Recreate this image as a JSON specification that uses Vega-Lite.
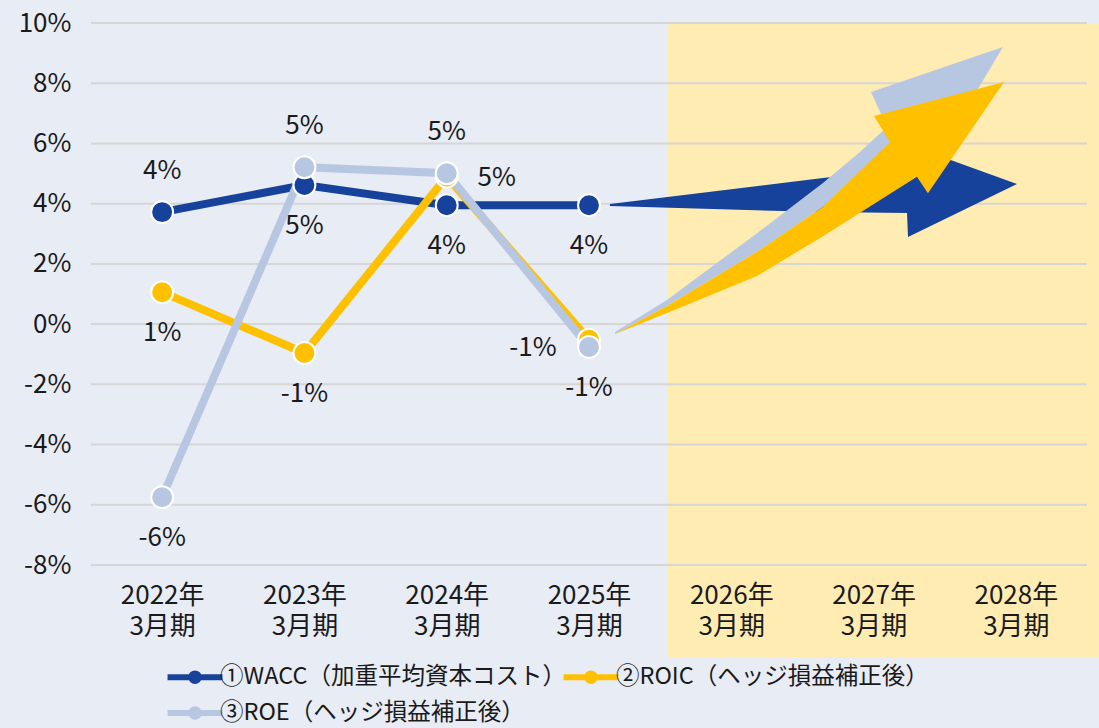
{
  "$schema": "https://vega.github.io/schema/vega-lite/v6.json",
  "width": 996,
  "height": 542,
  "autosize": {"type": "none"},
  "padding": {"left": 91, "top": 23, "right": 12, "bottom": 163},
  "background": "#e8ecf5",
  "config": {
    "view": {"stroke": null},
    "font": "Noto Sans CJK JP",
    "locale": {
      "number": {"decimal": ".", "thousands": ",", "grouping": [3], "currency": ["", ""], "minus": "-"}
    }
  },
  "datasets": {
    "series": [
      {"s": "WACC", "series": "①WACC（加重平均資本コスト）", "year": 2022, "value": 0.0372},
      {"s": "WACC", "series": "①WACC（加重平均資本コスト）", "year": 2023, "value": 0.0462},
      {"s": "WACC", "series": "①WACC（加重平均資本コスト）", "year": 2024, "value": 0.0395},
      {"s": "WACC", "series": "①WACC（加重平均資本コスト）", "year": 2025, "value": 0.0395},
      {"s": "ROIC", "series": "②ROIC（ヘッジ損益補正後）", "year": 2022, "value": 0.0106},
      {"s": "ROIC", "series": "②ROIC（ヘッジ損益補正後）", "year": 2023, "value": -0.0096},
      {"s": "ROIC", "series": "②ROIC（ヘッジ損益補正後）", "year": 2024, "value": 0.049},
      {"s": "ROIC", "series": "②ROIC（ヘッジ損益補正後）", "year": 2025, "value": -0.0052},
      {"s": "ROE", "series": "③ROE（ヘッジ損益補正後）", "year": 2022, "value": -0.0575},
      {"s": "ROE", "series": "③ROE（ヘッジ損益補正後）", "year": 2023, "value": 0.0521},
      {"s": "ROE", "series": "③ROE（ヘッジ損益補正後）", "year": 2024, "value": 0.0501},
      {"s": "ROE", "series": "③ROE（ヘッジ損益補正後）", "year": 2025, "value": -0.0076}
    ],
    "band": [{"start": 2025.548, "end": 2028.584}],
    "grid": [
      {"v": -0.08}, {"v": -0.06}, {"v": -0.04}, {"v": -0.02}, {"v": 0},
      {"v": 0.02}, {"v": 0.04}, {"v": 0.06}, {"v": 0.08}, {"v": 0.10}
    ],
    "arrows": [
      {"arrow": "wacc", "i": 1, "x": 2025.147, "y": 0.0399},
      {"arrow": "wacc", "i": 2, "x": 2026.644, "y": 0.0485},
      {"arrow": "wacc", "i": 3, "x": 2027.186, "y": 0.0512},
      {"arrow": "wacc", "i": 4, "x": 2027.221, "y": 0.0600},
      {"arrow": "wacc", "i": 5, "x": 2028.008, "y": 0.0465},
      {"arrow": "wacc", "i": 6, "x": 2027.242, "y": 0.0289},
      {"arrow": "wacc", "i": 7, "x": 2027.235, "y": 0.0369},
      {"arrow": "wacc", "i": 8, "x": 2026.644, "y": 0.0372},
      {"arrow": "wacc", "i": 9, "x": 2025.147, "y": 0.0392},
      {"arrow": "roe", "i": 1, "x": 2025.183, "y": -0.0026},
      {"arrow": "roe", "i": 2, "x": 2025.548, "y": 0.0080},
      {"arrow": "roe", "i": 3, "x": 2026.181, "y": 0.0302},
      {"arrow": "roe", "i": 4, "x": 2026.644, "y": 0.0469},
      {"arrow": "roe", "i": 5, "x": 2026.904, "y": 0.0572},
      {"arrow": "roe", "i": 6, "x": 2027.094, "y": 0.0655},
      {"arrow": "roe", "i": 7, "x": 2026.982, "y": 0.0771},
      {"arrow": "roe", "i": 8, "x": 2027.909, "y": 0.0920},
      {"arrow": "roe", "i": 9, "x": 2027.741, "y": 0.0787},
      {"arrow": "roe", "i": 10, "x": 2027.467, "y": 0.0645},
      {"arrow": "roe", "i": 11, "x": 2027.115, "y": 0.0545},
      {"arrow": "roe", "i": 12, "x": 2026.644, "y": 0.0389},
      {"arrow": "roe", "i": 13, "x": 2026.181, "y": 0.0240},
      {"arrow": "roe", "i": 14, "x": 2025.548, "y": 0.0060},
      {"arrow": "roe", "i": 15, "x": 2025.183, "y": -0.0033},
      {"arrow": "roic", "i": 1, "x": 2025.183, "y": -0.0033},
      {"arrow": "roic", "i": 2, "x": 2025.548, "y": 0.0060},
      {"arrow": "roic", "i": 3, "x": 2026.181, "y": 0.0240},
      {"arrow": "roic", "i": 4, "x": 2026.644, "y": 0.0389},
      {"arrow": "roic", "i": 5, "x": 2027.115, "y": 0.0605},
      {"arrow": "roic", "i": 6, "x": 2027.003, "y": 0.0691},
      {"arrow": "roic", "i": 7, "x": 2027.917, "y": 0.0804},
      {"arrow": "roic", "i": 8, "x": 2027.382, "y": 0.0435},
      {"arrow": "roic", "i": 9, "x": 2027.305, "y": 0.0489},
      {"arrow": "roic", "i": 10, "x": 2026.644, "y": 0.0292},
      {"arrow": "roic", "i": 11, "x": 2026.181, "y": 0.0160},
      {"arrow": "roic", "i": 12, "x": 2025.548, "y": 0.0037},
      {"arrow": "roic", "i": 13, "x": 2025.183, "y": -0.0033}
    ]
  },
  "layer": [
    {
      "data": {"name": "band"},
      "mark": {"type": "rect", "color": "#ffecb3"},
      "encoding": {
        "x": {"field": "start", "type": "quantitative", "title": null,
              "scale": {"domain": [2021.5, 2028.5], "nice": false, "zero": false}},
        "x2": {"field": "end"},
        "y": {"datum": -0.1106, "type": "quantitative", "title": null,
              "scale": {"domain": [-0.08, 0.10], "nice": false, "zero": false}},
        "y2": {"datum": 0.10}
      }
    },
    {
      "data": {"name": "grid"},
      "mark": {"type": "rule", "color": "#d6d6d6", "strokeWidth": 2},
      "encoding": {
        "y": {"field": "v", "type": "quantitative", "title": null}
      }
    },
    {
      "data": {"name": "arrows"},
      "transform": [{"filter": "datum.arrow == 'wacc'"}],
      "mark": {"type": "line", "filled": true, "interpolate": "linear-closed", "color": "#17429b", "strokeWidth": 0},
      "encoding": {
        "x": {"field": "x", "type": "quantitative", "title": null},
        "y": {"field": "y", "type": "quantitative", "title": null},
        "order": {"field": "i", "type": "quantitative"}
      }
    },
    {
      "data": {"name": "arrows"},
      "transform": [{"filter": "datum.arrow == 'roe'"}],
      "mark": {"type": "line", "filled": true, "interpolate": "linear-closed", "color": "#b8c7e1", "strokeWidth": 0},
      "encoding": {
        "x": {"field": "x", "type": "quantitative", "title": null},
        "y": {"field": "y", "type": "quantitative", "title": null},
        "order": {"field": "i", "type": "quantitative"}
      }
    },
    {
      "data": {"name": "arrows"},
      "transform": [{"filter": "datum.arrow == 'roic'"}],
      "mark": {"type": "line", "filled": true, "interpolate": "linear-closed", "color": "#ffc000", "strokeWidth": 0},
      "encoding": {
        "x": {"field": "x", "type": "quantitative", "title": null},
        "y": {"field": "y", "type": "quantitative", "title": null},
        "order": {"field": "i", "type": "quantitative"}
      }
    },
    {
      "data": {"name": "series"},
      "mark": {"type": "line", "strokeWidth": 8},
      "encoding": {
        "x": {"field": "year", "type": "quantitative", "title": null,
              "axis": {"values": [2022, 2023, 2024, 2025, 2026, 2027, 2028],
                       "labelExpr": "[datum.value + '年', '3月期']",
                       "grid": false, "ticks": false, "domain": false, "zindex": 1,
                       "labelFontSize": 26, "labelPadding": 17, "labelLineHeight": 31,
                       "labelColor": "#1a1a1a", "labelFlush": false, "labelOverlap": false,
                       "labelFont": "Noto Sans CJK JP"}},
        "y": {"field": "value", "type": "quantitative", "title": null,
              "axis": {"values": [-0.08, -0.06, -0.04, -0.02, 0, 0.02, 0.04, 0.06, 0.08, 0.10],
                       "format": ".0%", "grid": false, "ticks": false, "domain": false,
                       "labelFontSize": 26, "labelPadding": 20, "labelColor": "#1a1a1a",
                       "labelFont": "Noto Sans CJK JP"}},
        "color": {"field": "series", "type": "nominal",
                  "scale": {"domain": ["①WACC（加重平均資本コスト）", "②ROIC（ヘッジ損益補正後）", "③ROE（ヘッジ損益補正後）"],
                            "range": ["#17429b", "#ffc000", "#b8c7e1"]},
                  "legend": {"orient": "none", "legendX": 86, "legendY": 636,
                             "direction": "horizontal", "columns": 2, "title": null,
                             "labelFontSize": 23.5, "labelFont": "Noto Sans CJK JP", "labelColor": "#1a1a1a",
                             "labelLimit": 0,
                             "symbolType": "M-1.83,0H1.83M-0.25,0A0.25,0.25,0,1,0,0.25,0A0.25,0.25,0,1,0,-0.25,0",
                             "symbolSize": 900, "symbolStrokeWidth": 6,
                             "columnPadding": -15, "rowPadding": 2, "labelOffset": 7,
                             "encode": {"symbols": {"update": {
                               "fill": {"scale": "color", "field": "value"},
                               "stroke": {"scale": "color", "field": "value"},
                               "opacity": {"value": 1}}}}}}
      }
    },
    {
      "data": {"name": "series"},
      "mark": {"type": "point", "filled": true, "size": 480, "stroke": "white", "strokeWidth": 2, "opacity": 1},
      "encoding": {
        "x": {"field": "year", "type": "quantitative", "title": null},
        "y": {"field": "value", "type": "quantitative", "title": null},
        "color": {"field": "series", "type": "nominal"}
      }
    },
    {
      "data": {"name": "series"},
      "transform": [{"filter": "(datum.s == 'WACC' && datum.year == 2022) || (datum.s == 'ROE' && (datum.year == 2023 || datum.year == 2024))"}],
      "mark": {"type": "text", "fontSize": 26, "dy": -41, "color": "#1a1a1a", "font": "Noto Sans CJK JP"},
      "encoding": {
        "x": {"field": "year", "type": "quantitative", "title": null},
        "y": {"field": "value", "type": "quantitative", "title": null},
        "text": {"field": "value", "type": "quantitative", "format": ".0%"}
      }
    },
    {
      "data": {"name": "series"},
      "transform": [{"filter": "(datum.s == 'WACC' && datum.year >= 2023) || (datum.s == 'ROIC' && datum.year <= 2023) || (datum.s == 'ROE' && (datum.year == 2022 || datum.year == 2025))"}],
      "mark": {"type": "text", "fontSize": 26, "dy": 41, "color": "#1a1a1a", "font": "Noto Sans CJK JP"},
      "encoding": {
        "x": {"field": "year", "type": "quantitative", "title": null},
        "y": {"field": "value", "type": "quantitative", "title": null},
        "text": {"field": "value", "type": "quantitative", "format": ".0%"}
      }
    },
    {
      "data": {"name": "series"},
      "transform": [{"filter": "datum.s == 'ROIC' && datum.year == 2024"}],
      "mark": {"type": "text", "fontSize": 26, "dx": 50, "dy": 1, "color": "#1a1a1a", "font": "Noto Sans CJK JP"},
      "encoding": {
        "x": {"field": "year", "type": "quantitative", "title": null},
        "y": {"field": "value", "type": "quantitative", "title": null},
        "text": {"field": "value", "type": "quantitative", "format": ".0%"}
      }
    },
    {
      "data": {"name": "series"},
      "transform": [{"filter": "datum.s == 'ROIC' && datum.year == 2025"}],
      "mark": {"type": "text", "fontSize": 26, "dx": -56, "dy": 8, "color": "#1a1a1a", "font": "Noto Sans CJK JP"},
      "encoding": {
        "x": {"field": "year", "type": "quantitative", "title": null},
        "y": {"field": "value", "type": "quantitative", "title": null},
        "text": {"field": "value", "type": "quantitative", "format": ".0%"}
      }
    }
  ]
}
